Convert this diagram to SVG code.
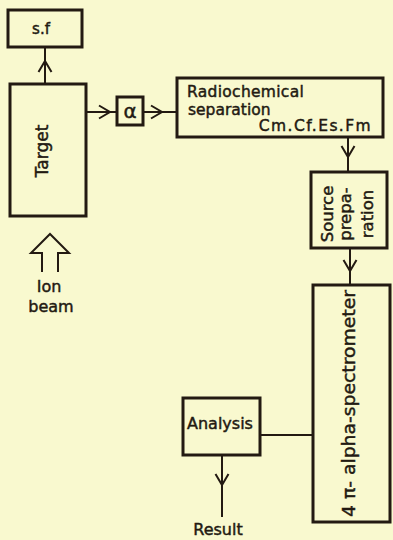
<svg xmlns="http://www.w3.org/2000/svg" width="393" height="540" viewBox="0 0 393 540">
<defs>
<style>
.box{fill:none;stroke:#231a12;stroke-width:3}
.ln{fill:none;stroke:#231a12;stroke-width:2}
.t{font-family:"DejaVu Sans","Liberation Sans",sans-serif;fill:#231a12;stroke:#231a12;stroke-width:0.45}
</style>
<marker id="chev" markerUnits="userSpaceOnUse" viewBox="-12 -8 14 16" markerWidth="14" markerHeight="16" refX="0" refY="0" orient="auto">
<path d="M-11,-6.5 L0,0 L-11,6.5" fill="none" stroke="#231a12" stroke-width="2"/>
</marker>
</defs>
<rect width="393" height="540" fill="#f9f9cf"/>
<g id="connectors">
<path class="ln" d="M45,84 L45,61 L45,48" marker-mid="url(#chev)"/>
<path class="ln" d="M86,112 L110,112 L117,112" marker-mid="url(#chev)"/>
<path class="ln" d="M143,112 L162,112 L177,112" marker-mid="url(#chev)"/>
<path class="ln" d="M348,137 L348,157 L348,172" marker-mid="url(#chev)"/>
<path class="ln" d="M350,248 L350,271 L350,285" marker-mid="url(#chev)"/>
<path class="ln" d="M313,435 L260,435"/>
<path class="ln" d="M222,455 L222,485 L222,517" marker-mid="url(#chev)"/>
</g>
<g id="sf">
<rect class="box" x="8" y="10" width="74" height="37"/>
<text class="t" x="41" y="34" font-size="15" text-anchor="middle">s.f</text>
</g>
<g id="target">
<rect class="box" x="10" y="84" width="76" height="132"/>
<text class="t" transform="translate(48,151) rotate(-90)" font-size="17" text-anchor="middle">Target</text>
</g>
<g id="alpha">
<rect class="box" x="117" y="97" width="26" height="28"/>
<text class="t" x="130" y="118" font-size="20" text-anchor="middle">α</text>
</g>
<g id="radiochem">
<rect class="box" x="177" y="78" width="206" height="59"/>
<text class="t" x="187" y="97" font-size="15.5" letter-spacing="0.3">Radiochemical</text>
<text class="t" x="188" y="115" font-size="15.5">separation</text>
<text class="t" x="372" y="131" font-size="15.5" text-anchor="end" letter-spacing="1.4">Cm.Cf.Es.Fm</text>
</g>
<g id="source">
<rect class="box" x="311" y="172" width="76" height="76"/>
<text class="t" transform="translate(333,214) rotate(-90)" font-size="16.5" text-anchor="middle">Source</text>
<text class="t" transform="translate(351,214) rotate(-90)" font-size="16.5" text-anchor="middle">prepa-</text>
<text class="t" transform="translate(373,214) rotate(-90)" font-size="16.5" text-anchor="middle">ration</text>
</g>
<g id="spectrometer">
<rect class="box" x="313" y="285" width="77" height="237"/>
<text class="t" transform="translate(355,517) rotate(-90)" font-size="18" textLength="227" lengthAdjust="spacingAndGlyphs">4 π- alpha-spectrometer</text>
</g>
<g id="analysis">
<rect class="box" x="183" y="398" width="77" height="57"/>
<text class="t" x="220" y="429" font-size="16" text-anchor="middle">Analysis</text>
</g>
<g id="result">
<text class="t" x="218" y="535" font-size="16" text-anchor="middle">Result</text>
</g>
<g id="ionbeam">
<polyline class="ln" stroke-width="2.5" points="42,272 42,253 31,253 50,234 69,253 58,253 58,272"/>
<text class="t" x="49" y="292" font-size="16" text-anchor="middle">Ion</text>
<text class="t" x="51" y="312" font-size="16" text-anchor="middle">beam</text>
</g>
</svg>
